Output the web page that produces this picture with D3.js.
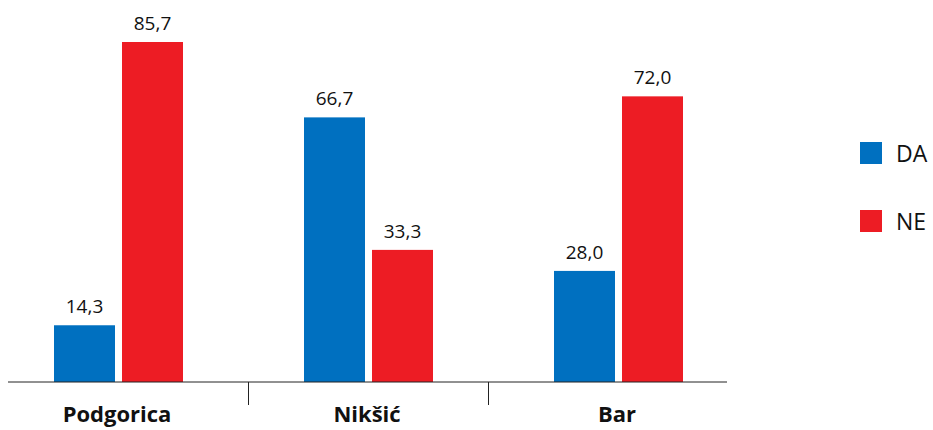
<!DOCTYPE html>
<html><head><meta charset="utf-8">
<script src="https://cdn.jsdelivr.net/npm/d3@7/dist/d3.min.js"></script>
<style>body{margin:0;background:#fff}svg{display:block}text{font-family:"Open Sans",Lato,sans-serif}</style>
</head><body>
<script>
const categories = ["Podgorica", "Nikšić", "Bar"];
const seriesNames = ["DA", "NE"];
const daValues = [14.3, 66.7, 28.0];
const neValues = [85.7, 33.3, 72.0];
const colors = ["#0070C0", "#ED1C24"];

const W = 933, H = 430;
const svg = d3.select("body").append("svg").attr("width", W).attr("height", H);
const baseY = 382;

const x = d3.scaleBand().domain(categories).range([-7, 743]);
const inner = d3.scaleBand().domain(seriesNames).range([54 - x(categories[0]), 183 - x(categories[0])]).paddingInner(0.103);
const axisScale = d3.scaleBand().domain(categories).range([8, 728]);
const y = d3.scaleLinear().domain([0, 85.7]).range([baseY, 42]);

const fmt = v => d3.format(".1f")(v).replace(".", ",");
const data = categories.map((c, i) => ({cat: c, vals: [daValues[i], neValues[i]]}));

const g = svg.append("g");
data.forEach(d => {
  d.vals.forEach((v, j) => {
    const s = seriesNames[j];
    const bx = x(d.cat) + inner(s);
    g.append("rect").attr("x", bx).attr("y", y(v)).attr("width", inner.bandwidth())
      .attr("height", baseY - y(v)).attr("fill", colors[j]);
    g.append("text").attr("x", bx + inner.bandwidth() / 2).attr("y", y(v) - 12)
      .attr("text-anchor", "middle").attr("font-size", 19).attr("fill", "#111").text(fmt(v));
  });
});

// axis line
svg.append("line").attr("x1", 8).attr("x2", 727).attr("y1", baseY).attr("y2", baseY)
  .attr("stroke", "#222").attr("stroke-width", 1);
// separators
categories.slice(1).forEach(c => {
  const sx = Math.round(axisScale(c)) + 0.5;
  svg.append("line").attr("x1", sx).attr("x2", sx).attr("y1", baseY).attr("y2", 405)
    .attr("stroke", "#222").attr("stroke-width", 1);
});
// category labels
categories.forEach(c => {
  svg.append("text").attr("x", x(c) + x.bandwidth() / 2 - 1).attr("y", 422)
    .attr("text-anchor", "middle").attr("font-size", 22).attr("font-weight", "bold")
    .attr("fill", "#111").text(c);
});
// legend
seriesNames.forEach((s, i) => {
  const ly = 142 + i * 68;
  svg.append("rect").attr("x", 860).attr("y", ly).attr("width", 22).attr("height", 22).attr("fill", colors[i]);
  svg.append("text").attr("x", 896).attr("y", ly + 20).attr("font-size", 23).attr("fill", "#111").text(s);
});
</script>
</body></html>
